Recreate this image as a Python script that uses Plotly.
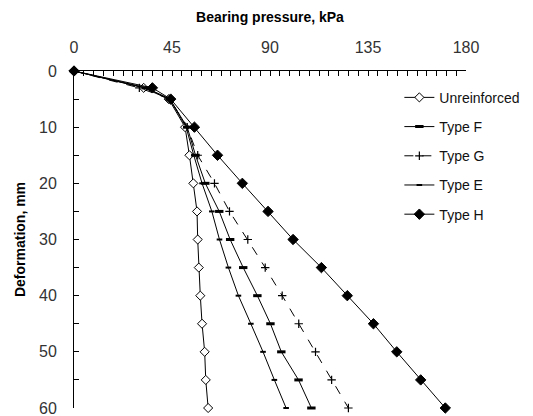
import plotly.graph_objects as go

deformation = [0, 3, 5, 10, 15, 20, 25, 30, 35, 40, 45, 50, 55, 60]

unreinforced = [0, 32, 43.5, 51, 53, 54.8, 56.5, 56.8, 57.3, 58, 58.8, 60, 60.5, 61.6]
type_f = [0, 33, 44, 52, 55.8, 60.3, 66.7, 71.7, 77.7, 84.2, 90.2, 95.2, 103.1, 109]
type_g = [0, 30, 44, 52, 56.8, 64.5, 71.4, 79.8, 87.8, 95.6, 103.2, 110.9, 118.3, 126]
type_e = [0, 33, 44, 51.5, 55, 58.8, 63.3, 66.8, 70.9, 75.5, 81.2, 86.8, 92, 97.4]
type_h = [0, 36, 44.4, 55.3, 65.9, 77.3, 89.1, 100.6, 113.6, 125.5, 137.5, 148.2, 159.2, 170.5]

x_ticks = [0, 45, 90, 135, 180]
y_ticks = [0, 10, 20, 30, 40, 50, 60]

series = [
    ("Unreinforced", unreinforced, "solid",
     dict(symbol="diamond", size=7, color="white", line=dict(color="black", width=1))),
    ("Type F", type_f, "solid",
     dict(symbol="line-ew", size=6, color="black", line=dict(color="black", width=3))),
    ("Type G", type_g, "dash",
     dict(symbol="cross-thin", size=6, color="black", line=dict(color="black", width=1.2))),
    ("Type E", type_e, "solid",
     dict(symbol="line-ew", size=4, color="black", line=dict(color="black", width=2))),
    ("Type H", type_h, "solid",
     dict(symbol="diamond", size=8, color="black", line=dict(color="black", width=1))),
]

fig = go.Figure()
for i, (name, vals, dash, marker) in enumerate(series):
    fig.add_trace(go.Scatter(
        x=vals, y=deformation, name=name, mode="lines+markers",
        line=dict(color="black", width=1, dash=dash),
        marker=marker, cliponaxis=False, legendgroup=f"g{i}",
    ))

fig.update_layout(
    width=525, height=408,
    margin=dict(l=66, r=63, t=63, b=8),
    paper_bgcolor="white", plot_bgcolor="white",
    font=dict(family="Liberation Sans, Arial, sans-serif", color="black"),
    showlegend=True,
    legend=dict(
        x=0.83, y=0.968, xanchor="left", yanchor="top",
        font=dict(size=14, color="#111111"),
        bgcolor="rgba(0,0,0,0)", traceorder="grouped", tracegroupgap=8,
    ),
    xaxis=dict(
        side="top", range=[0, 180], tickvals=x_ticks, ticktext=[str(v) for v in x_ticks],
        showgrid=False, zeroline=False, showline=True, linecolor="black", linewidth=1,
        ticks="inside", ticklen=5, tickcolor="black", automargin=False,
        minor=dict(dtick=4.5, ticks="inside", ticklen=5, tickcolor="black"),
        tickfont=dict(size=16, color="#333333"), ticklabeloverflow="allow",
        title=dict(text="<b>Bearing pressure, kPa</b>", font=dict(size=14), standoff=12),
        ticklabelstandoff=11,
    ),
    yaxis=dict(
        range=[60, 0], tickvals=y_ticks, ticktext=[str(v) for v in y_ticks],
        showgrid=False, zeroline=False, showline=True, linecolor="black", linewidth=1,
        ticks="inside", ticklen=5, tickcolor="black", automargin=False,
        minor=dict(dtick=5, ticks="inside", ticklen=5, tickcolor="black"),
        tickfont=dict(size=16, color="#333333"), ticklabeloverflow="allow",
        title=dict(text="<b>Deformation, mm</b>", font=dict(size=14), standoff=10),
        ticklabelstandoff=13,
    ),
)

fig.write_html("out.html")
